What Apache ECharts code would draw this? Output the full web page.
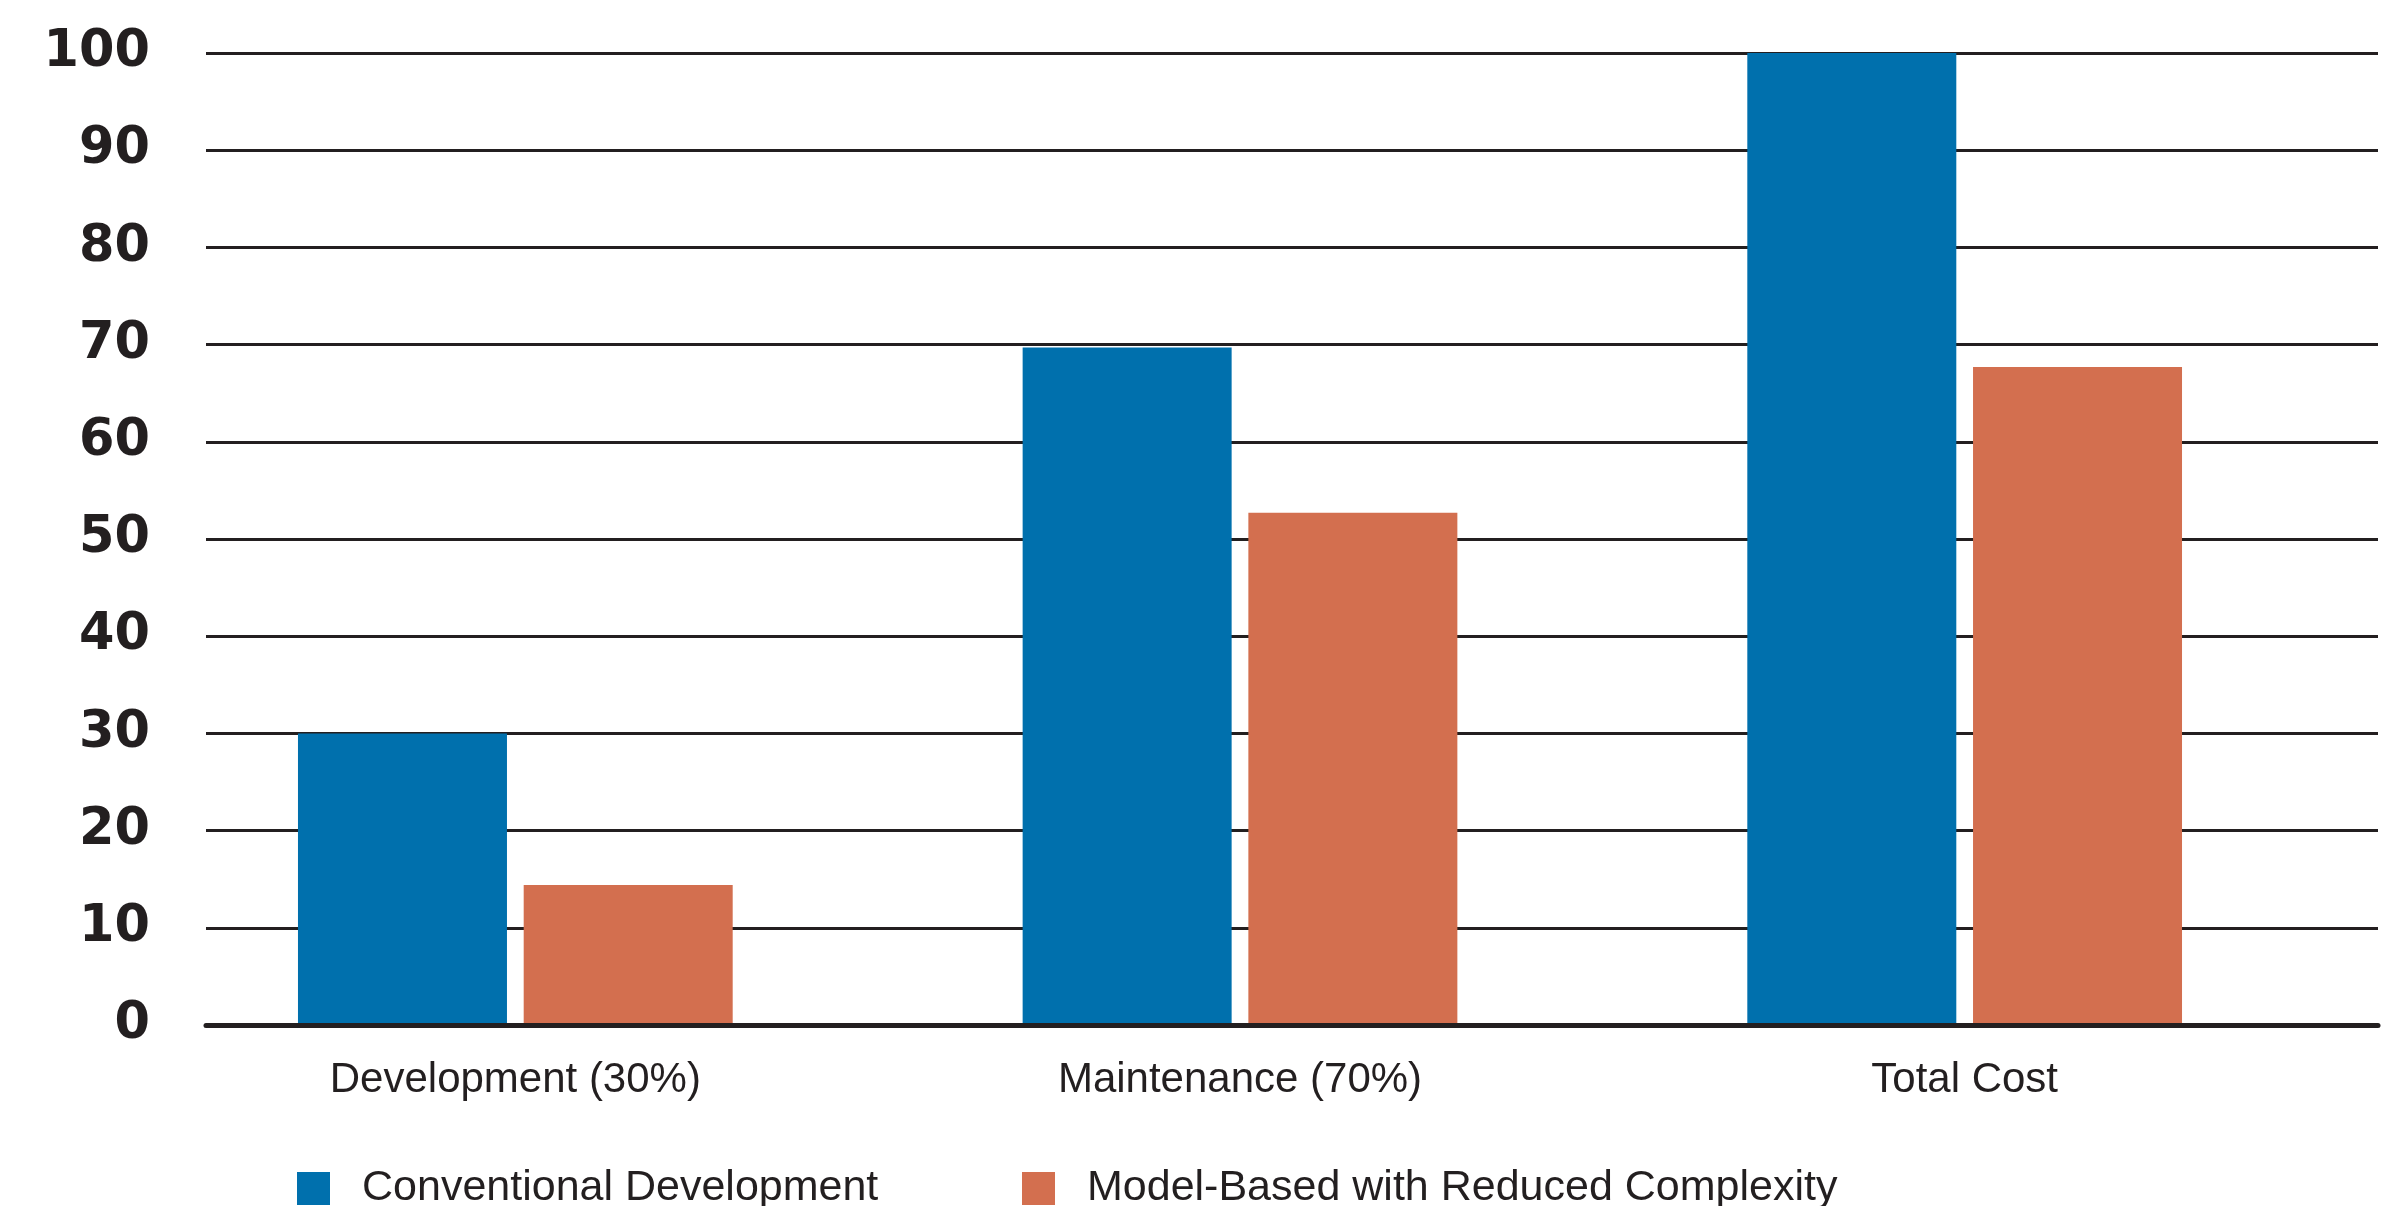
<!DOCTYPE html>
<html>
<head>
<meta charset="utf-8">
<style>
  html, body { margin: 0; padding: 0; background: #fff; }
  #chart { width: 2398px; height: 1206px; }
</style>
<script src="https://cdn.jsdelivr.net/npm/echarts@6/dist/echarts.min.js"></script>
</head>
<body>
<div id="chart"></div>
<script>
// data
var categories = ['Development (30%)', 'Maintenance (70%)', 'Total Cost'];
var conventional = [30, 69.7, 100];
var modelBased = [14.4, 52.7, 67.7];
var seriesNames = ['Conventional Development', 'Model-Based with Reduced Complexity'];
var yTicks = { min: 0, max: 100, interval: 10 };

var ink = '#231f20';
var blue = '#0070ad';
var orange = '#d36f4f';

var myChart = echarts.init(document.getElementById('chart'));

var option = {
    backgroundColor: '#fff',
    animation: false,
    grid: [
        // grid for gridlines + y labels
        { left: 206, right: 20, top: 53, bottom: 181 },
        // grid for the bars (groups sit a little left of the gridline span)
        { left: 153, right: 71, top: 53, bottom: 181 }
    ],
    legend: [
        {
            left: 297, top: 1167, padding: 0,
            itemWidth: 33, itemHeight: 33, icon: 'rect',
            data: [seriesNames[0]],
            textStyle: { fontFamily: 'Liberation Sans', fontSize: 43, color: ink, padding: [0, 0, 0, 27] }
        },
        {
            left: 1022, top: 1167, padding: 0,
            itemWidth: 33, itemHeight: 33, icon: 'rect',
            data: [seriesNames[1]],
            textStyle: { fontFamily: 'Liberation Sans', fontSize: 43, color: ink, padding: [0, 0, 0, 27] }
        }
    ],
    xAxis: [
        {
            type: 'category', gridIndex: 0, data: categories, z: 5,
            axisLine: { show: true, lineStyle: { color: ink, width: 5 } },
            axisTick: { show: false },
            axisLabel: { show: false }
        },
        {
            type: 'category', gridIndex: 1, data: categories,
            axisLine: { show: false },
            axisTick: { show: false },
            axisLabel: { fontFamily: 'Liberation Sans', fontSize: 42, color: ink, margin: 34 }
        }
    ],
    yAxis: [
        {
            type: 'value', gridIndex: 0,
            min: yTicks.min, max: yTicks.max, interval: yTicks.interval,
            axisLine: { show: false },
            axisTick: { show: false },
            axisLabel: { fontFamily: 'DejaVu Sans', fontWeight: 'bold', fontSize: 51, color: ink, margin: 56 },
            splitLine: { show: true, lineStyle: { color: ink, width: 3 } }
        },
        {
            type: 'value', gridIndex: 1,
            min: yTicks.min, max: yTicks.max, interval: yTicks.interval,
            show: false,
            splitLine: { show: false }
        }
    ],
    series: [
        {
            name: seriesNames[0], type: 'bar', xAxisIndex: 1, yAxisIndex: 1,
            data: conventional, barWidth: 209, barGap: '8%',
            itemStyle: { color: blue }
        },
        {
            name: seriesNames[1], type: 'bar', xAxisIndex: 1, yAxisIndex: 1,
            data: modelBased, barWidth: 209, barGap: '8%',
            itemStyle: { color: orange }
        }
    ]
};

myChart.setOption(option);
</script>
</body>
</html>
